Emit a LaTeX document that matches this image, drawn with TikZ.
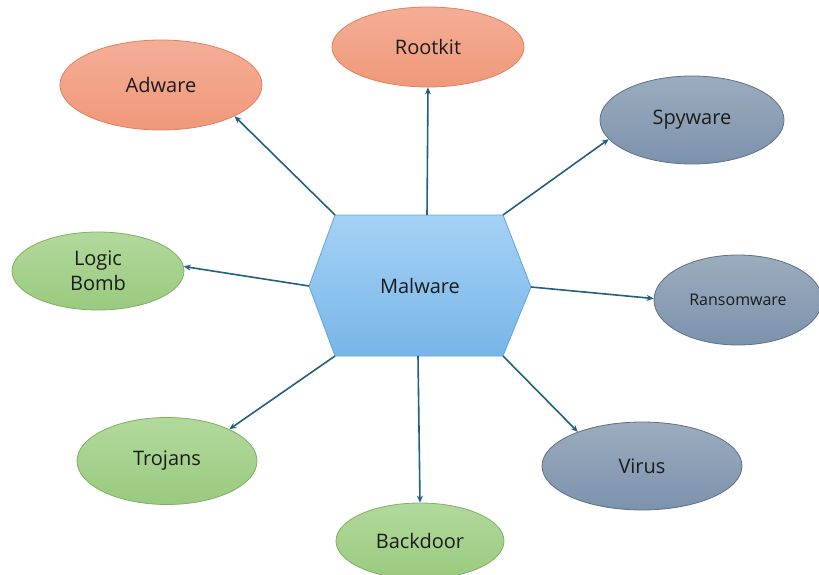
\documentclass[tikz,border=0pt]{standalone}
\usepackage{fontspec}
\setmainfont{Open Sans}
\usetikzlibrary{shapes.geometric,arrows.meta}
\definecolor{orTop}{HTML}{F4AE96}
\definecolor{orBot}{HTML}{F0987A}
\definecolor{orLine}{HTML}{E0805E}
\definecolor{grTop}{HTML}{B2D99C}
\definecolor{grBot}{HTML}{99CA7E}
\definecolor{grLine}{HTML}{80B062}
\definecolor{bgTop}{HTML}{9CACBE}
\definecolor{bgBot}{HTML}{7C92AC}
\definecolor{bgLine}{HTML}{5C7089}
\definecolor{hxTop}{HTML}{A5D2F5}
\definecolor{hxBot}{HTML}{78B5E8}
\definecolor{hxLine}{HTML}{62A4D8}
\definecolor{arrC}{HTML}{21607F}
\definecolor{txtC}{HTML}{1C1C1C}
\tikzset{
  bub/.style={ellipse, inner sep=0pt, line width=0.8pt, text=txtC,
    font=\fontsize{20}{25}\selectfont, align=center},
  orb/.style={bub, draw=orLine, top color=orTop, bottom color=orBot},
  grb/.style={bub, draw=grLine, top color=grTop, bottom color=grBot},
  bgb/.style={bub, draw=bgLine, top color=bgTop, bottom color=bgBot},
  link/.style={draw=arrC, line width=1.6pt, -{Stealth[length=7pt,width=6pt]}}
}
\begin{document}
\begin{tikzpicture}[x=1pt,y=-1pt]
\useasboundingbox (0,0) rectangle (819,575);
% hexagon
\coordinate (h1) at (335,215);
\coordinate (h2) at (503,215);
\coordinate (h3) at (531,287);
\coordinate (h4) at (503,356);
\coordinate (h5) at (335,356);
\coordinate (h6) at (309,286);
\coordinate (ht) at (427,215);
\coordinate (hb) at (418,356);
\path[draw=hxLine, line width=0.8pt, top color=hxTop, bottom color=hxBot]
  (h1) -- (h2) -- (h3) -- (h4) -- (h5) -- (h6) -- cycle;
\node[text=txtC, font=\fontsize{20}{25}\selectfont] (mal) at (420,286) {Malware};
% bubbles
\node[orb, minimum width=192pt, minimum height=80pt] (root) at (428,47) {Rootkit};
\node[orb, minimum width=202pt, minimum height=90pt] (adw) at (161,85) {Adware};
\node[bgb, minimum width=184pt, minimum height=88pt] (spy) at (692,120) {Spyware};
\node[bgb, minimum width=168pt, minimum height=90pt, font=\fontsize{16}{19}\selectfont] (ran) at (738,300) {Ransomware};
\node[grb, minimum width=172pt, minimum height=78pt] (logic) at (98,271) {Logic\\Bomb};
\node[grb, minimum width=180pt, minimum height=87pt] (troj) at (167,461) {Trojans};
\node[grb, minimum width=168pt, minimum height=76pt] (back) at (420,541) {Backdoor};
\node[bgb, minimum width=200pt, minimum height=88pt] (vir) at (642,466) {Virus};
% connectors
\draw[link] (ht) -- (root.270);
\draw[link] (h1) -- (adw.-23);
\draw[link] (h2) -- (spy.193);
\draw[link] (h3) -- (ran.179);
\draw[link] (h6) -- (logic.3);
\draw[link] (h5) -- (troj.27);
\draw[link] (hb) -- (back.90);
\draw[link] (h4) -- (vir.152);
\end{tikzpicture}
\end{document}
